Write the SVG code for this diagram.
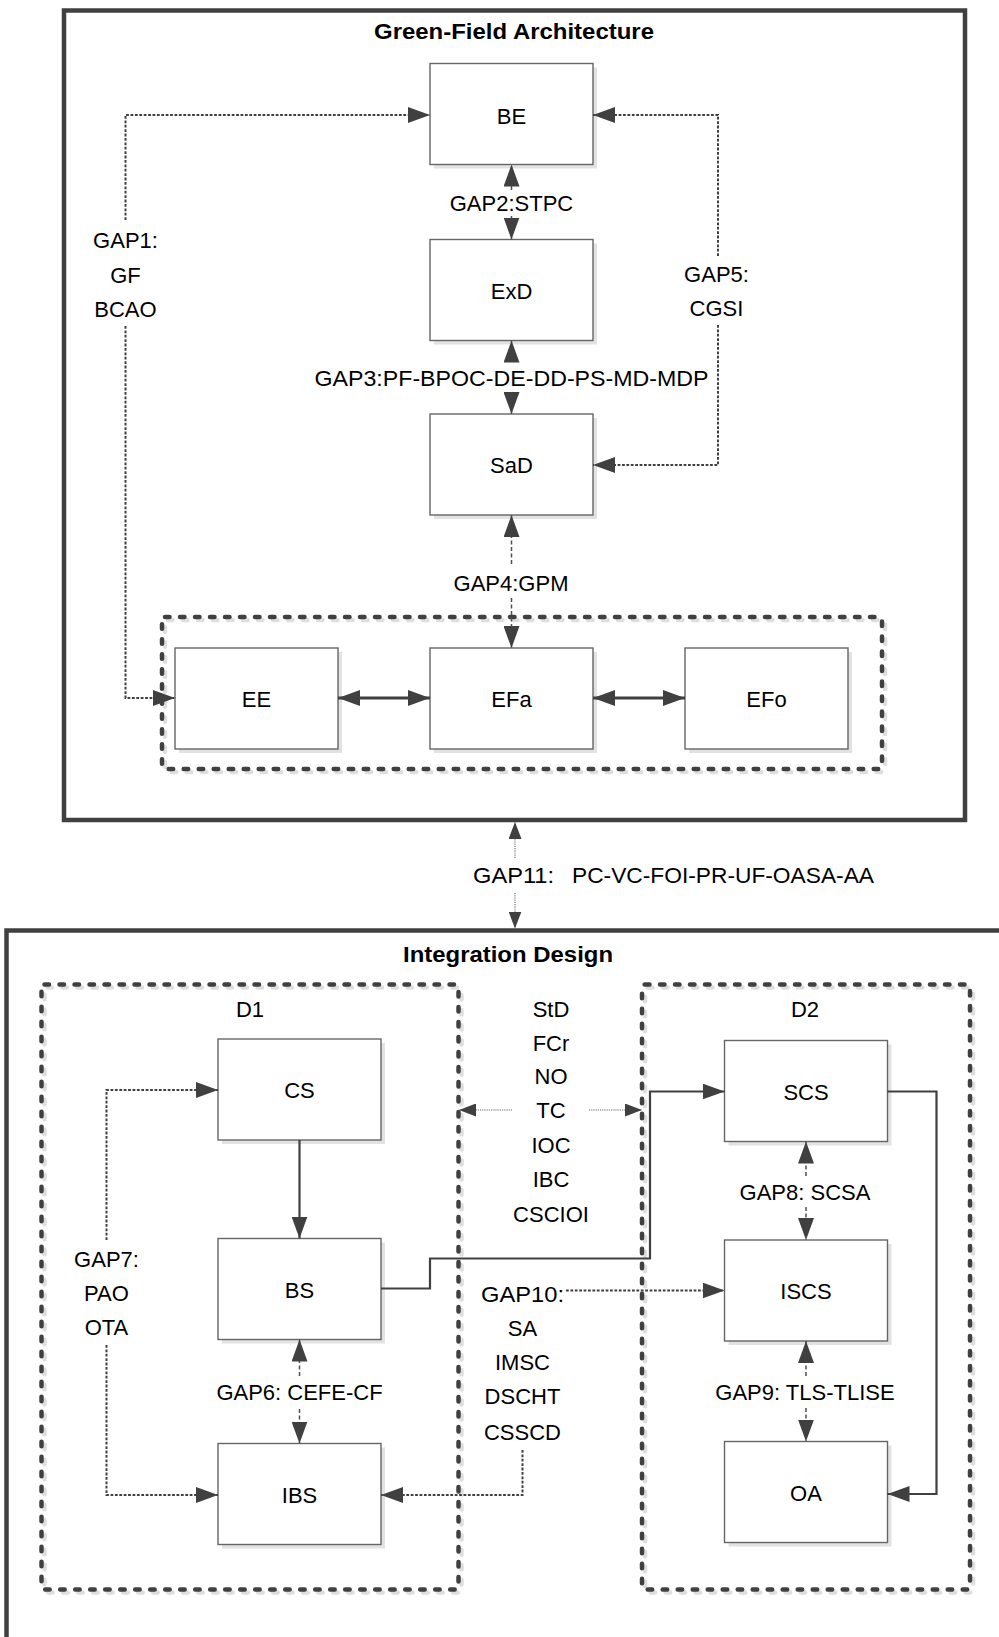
<svg xmlns="http://www.w3.org/2000/svg" width="999" height="1637" viewBox="0 0 999 1637">
<defs>
<style>
.t{font-family:"Liberation Sans",Arial,sans-serif;font-size:22px;fill:#000;text-anchor:middle}
.b{font-size:22px}
.h{font-weight:bold}
.box{fill:#fff;stroke:#666;stroke-width:1.4}
.sh{fill:#e2e2e2}
.frame{fill:none;stroke:#404040;stroke-width:4.5}
.cont{fill:none;stroke:#404040;stroke-width:4.5;stroke-linecap:round;stroke-dasharray:4.5 10.5}
.conts{fill:none;stroke:#dedede;stroke-width:4.5;stroke-linecap:round;stroke-dasharray:4.5 10.5}
.dot{fill:none;stroke:#404040;stroke-width:2;stroke-dasharray:2.8 1.6}
.dash{fill:none;stroke:#505050;stroke-width:1.5;stroke-dasharray:4 2.5}
.lt{fill:none;stroke:#9a9a9a;stroke-width:1.6;stroke-dasharray:1.2 1}
.sol{fill:none;stroke:#404040;stroke-width:2.2}
.thk{fill:none;stroke:#404040;stroke-width:3}
</style>
<marker id="a" markerUnits="userSpaceOnUse" markerWidth="24" markerHeight="16" refX="22" refY="8" orient="auto-start-reverse" viewBox="0 0 24 16"><path d="M0,0 L22,8 L0,16 z" fill="#404040"/></marker>
<marker id="s" markerUnits="userSpaceOnUse" markerWidth="18" markerHeight="13" refX="17" refY="6.5" orient="auto" viewBox="0 0 18 13"><path d="M0,0 L17,6.5 L0,13 z" fill="#404040"/></marker>
</defs>
<rect width="999" height="1637" fill="#fff"/>

<g id="frame-green-field">
<rect class="frame" x="64" y="10.5" width="901" height="809.5"/>
<text class="t h" x="514" y="38.5" textLength="280" lengthAdjust="spacingAndGlyphs">Green-Field Architecture</text>
</g>
<g id="frame-integration">
<path class="frame" d="M1005 930.5 H6.5 V1640"/>
<text class="t h" x="508" y="961.5" textLength="210" lengthAdjust="spacingAndGlyphs">Integration Design</text>
</g>

<g id="group-E">
<rect class="conts" x="165" y="620" width="720" height="152" rx="3"/>
<rect class="cont" x="162" y="617" width="720" height="152" rx="3"/>
</g>
<g id="D1">
<rect class="conts" x="44.5" y="987.5" width="417" height="605" rx="3"/>
<rect class="cont" x="41.5" y="984.5" width="417" height="605" rx="3"/>
<text class="t" x="250" y="1016.5">D1</text>
</g>
<g id="D2">
<rect class="conts" x="645" y="987.5" width="328" height="605" rx="3"/>
<rect class="cont" x="642" y="984.5" width="328" height="605" rx="3"/>
<text class="t" x="805" y="1016.5">D2</text>
</g>

<g id="BE"><rect class="sh" x="434" y="67.5" width="163" height="101"/><rect class="box" x="430" y="63.5" width="163" height="101"/><text class="t b" x="511.5" y="123.5">BE</text></g>
<g id="ExD"><rect class="sh" x="434" y="243.5" width="163" height="101"/><rect class="box" x="430" y="239.5" width="163" height="101"/><text class="t b" x="511.5" y="299">ExD</text></g>
<g id="SaD"><rect class="sh" x="434" y="418" width="163" height="101"/><rect class="box" x="430" y="414" width="163" height="101"/><text class="t b" x="511.5" y="473">SaD</text></g>
<g id="EE"><rect class="sh" x="179" y="652" width="163" height="101"/><rect class="box" x="175" y="648" width="163" height="101"/><text class="t b" x="256.5" y="706.5">EE</text></g>
<g id="EFa"><rect class="sh" x="434" y="652" width="163" height="101"/><rect class="box" x="430" y="648" width="163" height="101"/><text class="t b" x="511.5" y="706.5">EFa</text></g>
<g id="EFo"><rect class="sh" x="689" y="652" width="163" height="101"/><rect class="box" x="685" y="648" width="163" height="101"/><text class="t b" x="766.5" y="706.5">EFo</text></g>

<g id="CS"><rect class="sh" x="222" y="1043" width="163" height="101"/><rect class="box" x="218" y="1039" width="163" height="101"/><text class="t b" x="299.5" y="1098">CS</text></g>
<g id="BS"><rect class="sh" x="222" y="1242.5" width="163" height="101"/><rect class="box" x="218" y="1238.5" width="163" height="101"/><text class="t b" x="299.5" y="1298">BS</text></g>
<g id="IBS"><rect class="sh" x="222" y="1447.5" width="163" height="101"/><rect class="box" x="218" y="1443.5" width="163" height="101"/><text class="t b" x="299.5" y="1503">IBS</text></g>
<g id="SCS"><rect class="sh" x="728.5" y="1044.5" width="163" height="101"/><rect class="box" x="724.5" y="1040.5" width="163" height="101"/><text class="t b" x="806" y="1099.5">SCS</text></g>
<g id="ISCS"><rect class="sh" x="728.5" y="1244" width="163" height="101"/><rect class="box" x="724.5" y="1240" width="163" height="101"/><text class="t b" x="806" y="1298.5">ISCS</text></g>
<g id="OA"><rect class="sh" x="728.5" y="1445.5" width="163" height="101"/><rect class="box" x="724.5" y="1441.5" width="163" height="101"/><text class="t b" x="806" y="1500.5">OA</text></g>

<g id="connectors">
<path class="dot" d="M125.5 220 V115 H430" marker-end="url(#a)"/>
<path class="dot" d="M125.5 326 V698 H175" marker-end="url(#a)"/>
<path class="dot" d="M718 256 V115 H593" marker-end="url(#a)"/>
<path class="dot" d="M718 325 V465 H593" marker-end="url(#a)"/>
<path class="dash" d="M511.5 190 V164.5" marker-end="url(#a)"/>
<path class="dash" d="M511.5 216 V239.5" marker-end="url(#a)"/>
<path class="dash" d="M511.5 362 V340.5" marker-end="url(#a)"/>
<path class="dash" d="M511.5 392 V414" marker-end="url(#a)"/>
<path class="dash" d="M511.5 564 V515" marker-end="url(#a)"/>
<path class="dash" d="M511.5 598 V648" marker-end="url(#a)"/>
<path class="thk" d="M338 698 H430" marker-start="url(#a)" marker-end="url(#a)"/>
<path class="thk" d="M593 698 H685" marker-start="url(#a)" marker-end="url(#a)"/>
<path class="lt" d="M515 858 V822" marker-end="url(#s)"/>
<path class="lt" d="M515 893 V928.5" marker-end="url(#s)"/>
<path class="lt" d="M512 1110 H459" marker-end="url(#s)"/>
<path class="lt" d="M589 1110 H642" marker-end="url(#s)"/>
<path class="sol" d="M299.5 1140 V1238.5" marker-end="url(#a)"/>
<path class="sol" d="M381 1288.5 H430 V1258.5 H650 V1091.5 H724.5" marker-end="url(#a)"/>
<path class="sol" d="M887.5 1091.5 H936.5 V1494 H887.5" marker-end="url(#a)"/>
<path class="dot" d="M106.5 1240 V1090 H218" marker-end="url(#a)"/>
<path class="dot" d="M106.5 1345 V1495 H218" marker-end="url(#a)"/>
<path class="dash" d="M299.5 1376 V1339.5" marker-end="url(#a)"/>
<path class="dash" d="M299.5 1409 V1443.5" marker-end="url(#a)"/>
<path class="dash" d="M806 1176 V1141.5" marker-end="url(#a)"/>
<path class="dash" d="M806 1207 V1240" marker-end="url(#a)"/>
<path class="dash" d="M806 1376 V1341" marker-end="url(#a)"/>
<path class="dash" d="M806 1408 V1441.5" marker-end="url(#a)"/>
<path class="dot" d="M566 1290.5 H724.5" marker-end="url(#a)"/>
<path class="dot" d="M522.5 1450 V1495 H381" marker-end="url(#a)"/>
</g>

<g id="labels">
<text class="t" x="125.5" y="248">GAP1:</text>
<text class="t" x="125.5" y="283">GF</text>
<text class="t" x="125.5" y="317">BCAO</text>
<text class="t" x="716.5" y="281.5">GAP5:</text>
<text class="t" x="716.5" y="315.5">CGSI</text>
<text class="t" x="511.5" y="210.5">GAP2:STPC</text>
<text class="t" x="511.5" y="386" textLength="394" lengthAdjust="spacingAndGlyphs">GAP3:PF-BPOC-DE-DD-PS-MD-MDP</text>
<text class="t" x="511" y="591">GAP4:GPM</text>
<text class="t" style="text-anchor:start" y="883"><tspan x="473" textLength="81" lengthAdjust="spacingAndGlyphs">GAP11:</tspan><tspan x="572" textLength="302" lengthAdjust="spacingAndGlyphs">PC-VC-FOI-PR-UF-OASA-AA</tspan></text>
<text class="t" x="551" y="1017">StD</text>
<text class="t" x="551" y="1050.5">FCr</text>
<text class="t" x="551" y="1084">NO</text>
<text class="t" x="551" y="1117.5">TC</text>
<text class="t" x="551" y="1153">IOC</text>
<text class="t" x="551" y="1187">IBC</text>
<text class="t" x="551" y="1222">CSCIOI</text>
<text class="t" x="106.5" y="1266.5">GAP7:</text>
<text class="t" x="106.5" y="1300.5">PAO</text>
<text class="t" x="106.5" y="1335">OTA</text>
<text class="t" x="805" y="1200">GAP8: SCSA</text>
<text class="t" x="805" y="1400">GAP9: TLS-TLISE</text>
<text class="t" x="299.5" y="1400">GAP6: CEFE-CF</text>
<text class="t" x="522.5" y="1301.5" textLength="83" lengthAdjust="spacingAndGlyphs">GAP10:</text>
<text class="t" x="522.5" y="1336">SA</text>
<text class="t" x="522.5" y="1369.5">IMSC</text>
<text class="t" x="522.5" y="1404">DSCHT</text>
<text class="t" x="522.5" y="1440">CSSCD</text>
</g>
</svg>
